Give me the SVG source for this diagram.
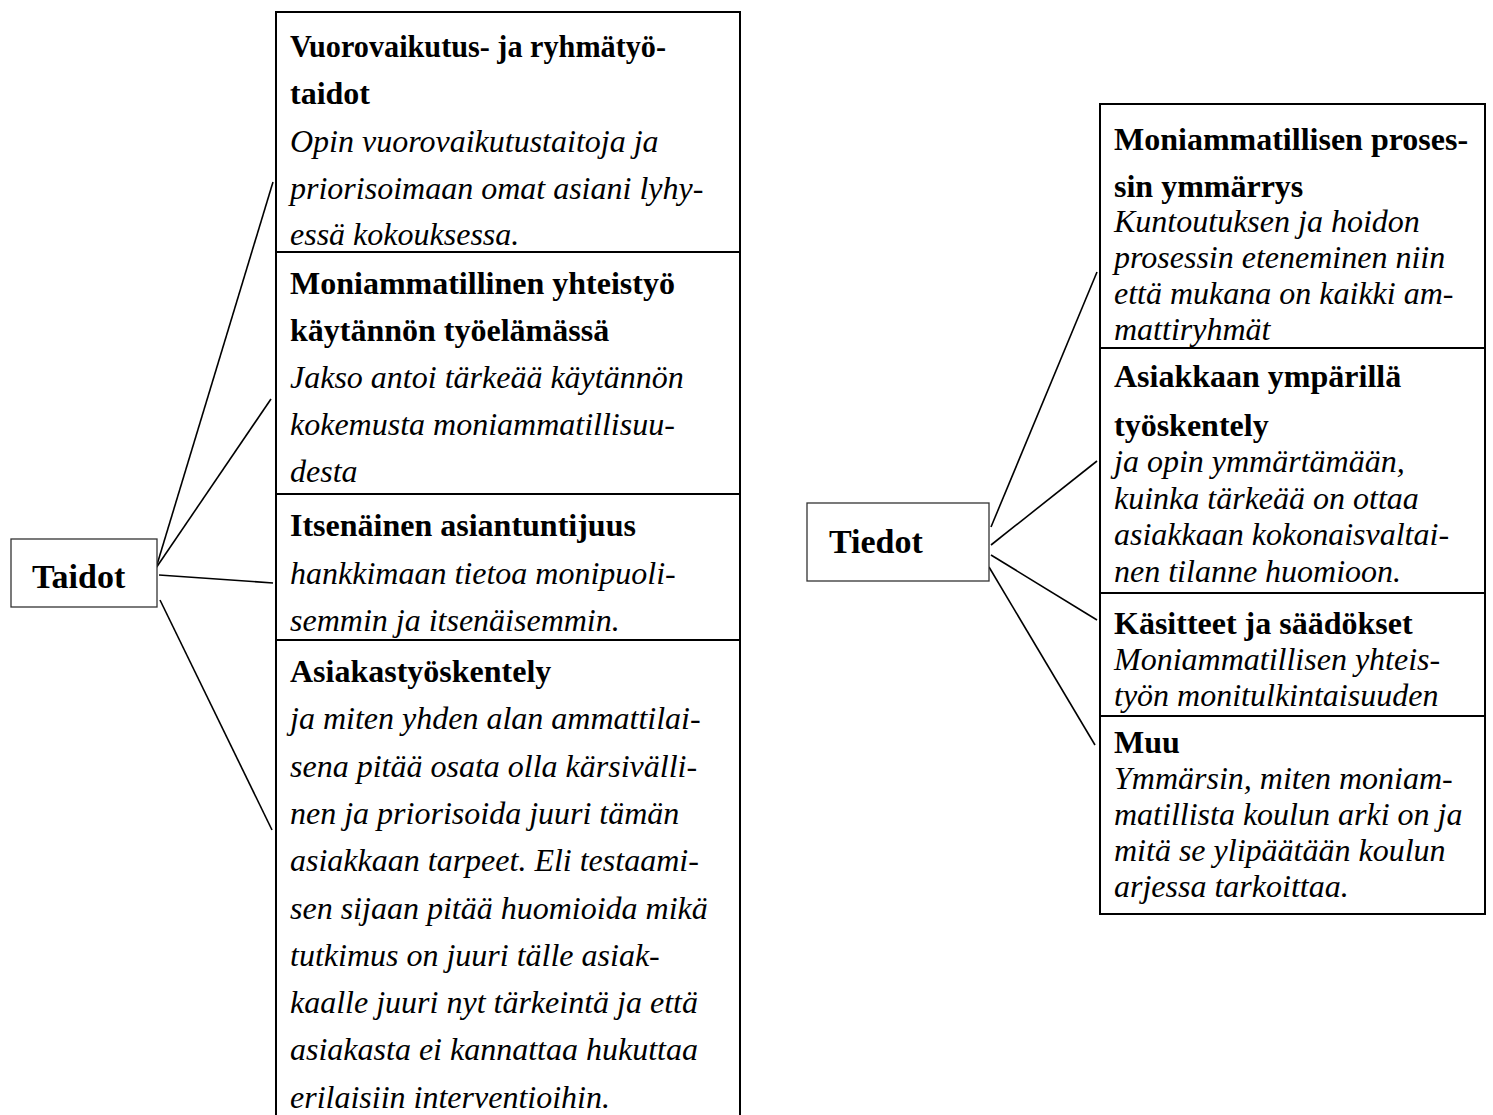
<svg xmlns="http://www.w3.org/2000/svg" width="1493" height="1115" viewBox="0 0 1493 1115">
<style>
.col{fill:#fff;stroke:#000;stroke-width:2}
.div{stroke:#000;stroke-width:2}
.hub{fill:#fff;stroke:#333;stroke-width:1.3}
.conn{stroke:#000;stroke-width:1.6;fill:none}
.h{font-family:"Liberation Serif","Times New Roman",serif;font-size:32px;font-weight:bold;fill:#000}
.b{font-family:"Liberation Serif","Times New Roman",serif;font-size:32px;font-style:italic;fill:#000}
.hubt{font-family:"Liberation Serif","Times New Roman",serif;font-size:34px;font-weight:bold;fill:#000}
</style>
<rect width="1493" height="1115" fill="#fff"/>
<g id="connectors">
<line class="conn" x1="156" y1="568" x2="273" y2="182"/>
<line class="conn" x1="156" y1="568" x2="271" y2="399"/>
<line class="conn" x1="159" y1="575" x2="273" y2="583"/>
<line class="conn" x1="160" y1="600" x2="272" y2="830"/>
<line class="conn" x1="991" y1="527" x2="1097" y2="272"/>
<line class="conn" x1="991" y1="545" x2="1097" y2="461"/>
<line class="conn" x1="991" y1="555" x2="1097" y2="620"/>
<line class="conn" x1="989" y1="567" x2="1095" y2="745"/>
</g>
<g id="taidot">
<rect class="hub" x="11" y="539" width="146" height="68"/>
<text class="hubt" x="32" y="588">Taidot</text>
</g>
<g id="tiedot">
<rect class="hub" x="807" y="503" width="182" height="78"/>
<text class="hubt" x="829" y="553">Tiedot</text>
</g>
<g id="taidot-column">
<rect class="col" x="276" y="12" width="464" height="1115"/>
<line class="div" x1="276" y1="252" x2="740" y2="252"/>
<line class="div" x1="276" y1="494" x2="740" y2="494"/>
<line class="div" x1="276" y1="640" x2="740" y2="640"/>
</g>
<g id="vuorovaikutus">
<text class="h" x="290" y="57" textLength="376" lengthAdjust="spacingAndGlyphs">Vuorovaikutus- ja ryhmätyö-</text>
<text class="h" x="290" y="104">taidot</text>
<text class="b" x="290" y="151.5">Opin vuorovaikutustaitoja ja</text>
<text class="b" x="290" y="198.5">priorisoimaan omat asiani lyhy-</text>
<text class="b" x="290" y="245">essä kokouksessa.</text>
</g>
<g id="moniammatillinen-yhteistyo">
<text class="h" x="290" y="294">Moniammatillinen yhteistyö</text>
<text class="h" x="290" y="341">käytännön työelämässä</text>
<text class="b" x="290" y="388">Jakso antoi tärkeää käytännön</text>
<text class="b" x="290" y="435">kokemusta moniammatillisuu-</text>
<text class="b" x="290" y="482">desta</text>
</g>
<g id="itsenainen">
<text class="h" x="290" y="536">Itsenäinen asiantuntijuus</text>
<text class="b" x="290" y="584">hankkimaan tietoa monipuoli-</text>
<text class="b" x="290" y="631">semmin ja itsenäisemmin.</text>
</g>
<g id="asiakastyoskentely">
<text class="h" x="290" y="682">Asiakastyöskentely</text>
<text class="b" x="290" y="729.3">ja miten yhden alan ammattilai-</text>
<text class="b" x="290" y="776.6">sena pitää osata olla kärsivälli-</text>
<text class="b" x="290" y="823.9">nen ja priorisoida juuri tämän</text>
<text class="b" x="290" y="871.2">asiakkaan tarpeet. Eli testaami-</text>
<text class="b" x="290" y="918.5">sen sijaan pitää huomioida mikä</text>
<text class="b" x="290" y="965.8">tutkimus on juuri tälle asiak-</text>
<text class="b" x="290" y="1013.1">kaalle juuri nyt tärkeintä ja että</text>
<text class="b" x="290" y="1060.4">asiakasta ei kannattaa hukuttaa</text>
<text class="b" x="290" y="1107.7">erilaisiin interventioihin.</text>
</g>
<g id="tiedot-column">
<rect class="col" x="1100" y="104" width="385" height="810"/>
<line class="div" x1="1100" y1="348" x2="1485" y2="348"/>
<line class="div" x1="1100" y1="593" x2="1485" y2="593"/>
<line class="div" x1="1100" y1="716" x2="1485" y2="716"/>
</g>
<g id="prosessin-ymmarrys">
<text class="h" x="1114" y="150">Moniammatillisen proses-</text>
<text class="h" x="1114" y="197">sin ymmärrys</text>
<text class="b" x="1114" y="231.5">Kuntoutuksen ja hoidon</text>
<text class="b" x="1114" y="267.5">prosessin eteneminen niin</text>
<text class="b" x="1114" y="303.5">että mukana on kaikki am-</text>
<text class="b" x="1114" y="339.5">mattiryhmät</text>
</g>
<g id="asiakkaan-ymparilla">
<text class="h" x="1114" y="387">Asiakkaan ympärillä</text>
<text class="h" x="1114" y="436">työskentely</text>
<text class="b" x="1114" y="472">ja opin ymmärtämään,</text>
<text class="b" x="1114" y="508.5">kuinka tärkeää on ottaa</text>
<text class="b" x="1114" y="545">asiakkaan kokonaisvaltai-</text>
<text class="b" x="1114" y="581.5">nen tilanne huomioon.</text>
</g>
<g id="kasitteet">
<text class="h" x="1114" y="634">Käsitteet ja säädökset</text>
<text class="b" x="1114" y="670">Moniammatillisen yhteis-</text>
<text class="b" x="1114" y="705.5">työn monitulkintaisuuden</text>
</g>
<g id="muu">
<text class="h" x="1114" y="753">Muu</text>
<text class="b" x="1114" y="789">Ymmärsin, miten moniam-</text>
<text class="b" x="1114" y="825">matillista koulun arki on ja</text>
<text class="b" x="1114" y="861">mitä se ylipäätään koulun</text>
<text class="b" x="1114" y="897">arjessa tarkoittaa.</text>
</g>
</svg>
